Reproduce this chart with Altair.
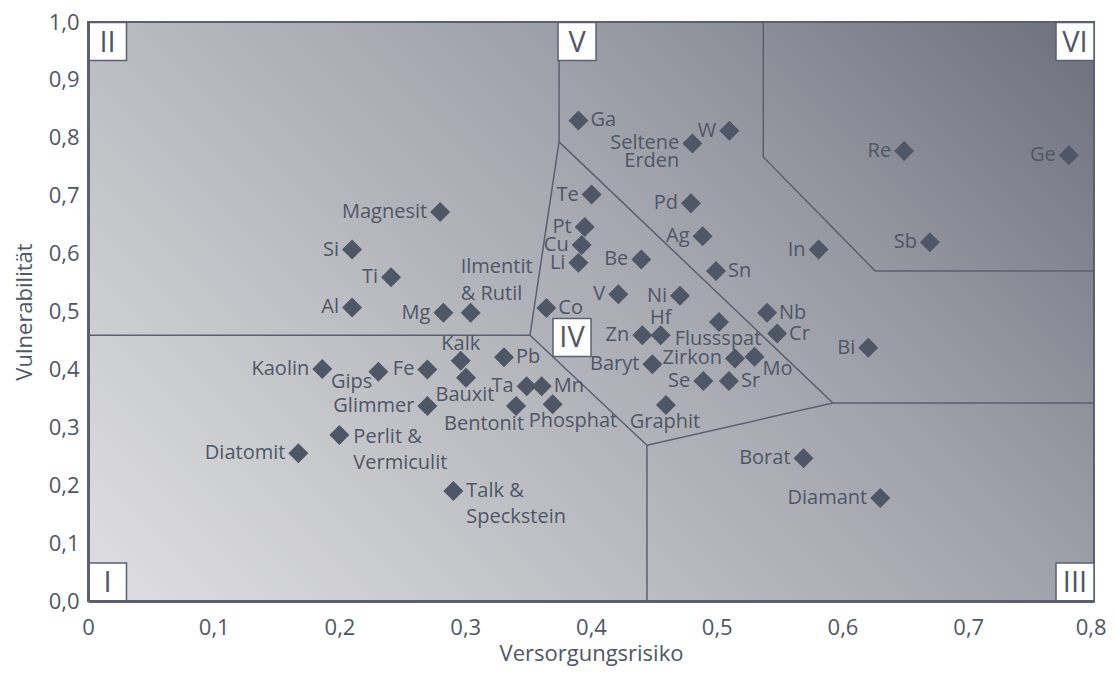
import altair as alt
import pandas as pd

# ---------------- data ----------------
names = ["Magnesit", "Si", "Ti", "Al", "Mg", "Ilmentit\n& Rutil", "Co", "Ga",
         "Seltene\nErden", "W", "Te", "Pd", "Pt", "Cu", "Li", "Be", "Ag", "Sn",
         "In", "V", "Ni", "Nb", "Cr", "Hf", "Zn", "Flussspat", "Bi", "Baryt",
         "Zirkon", "Mo", "Se", "Sr", "Graphit", "Kaolin", "Gips", "Fe", "Kalk",
         "Bauxit", "Pb", "Ta", "Mn", "Glimmer", "Bentonit", "Phosphat",
         "Perlit &\nVermiculit", "Diatomit", "Talk &\nSpeckstein", "Borat",
         "Diamant", "Re", "Ge", "Sb"]
risk = [0.280, 0.210, 0.241, 0.210, 0.2826, 0.3043, 0.3645, 0.390,
        0.4806, 0.510, 0.4005, 0.4795, 0.395, 0.3926, 0.390, 0.440, 0.4887, 0.4994,
        0.581, 0.4217, 0.4708, 0.540, 0.548, 0.4554, 0.4408, 0.5018, 0.6205, 0.4488,
        0.5145, 0.530, 0.4893, 0.5097, 0.4596, 0.1863, 0.2309, 0.2699, 0.2964,
        0.3006, 0.3308, 0.3488, 0.3608, 0.2699, 0.3404, 0.3695,
        0.1999, 0.1673, 0.2905, 0.569,
        0.630, 0.649, 0.780, 0.6695]
vuln = [0.672, 0.607, 0.559, 0.507, 0.498, 0.498, 0.506, 0.830,
        0.790, 0.812, 0.702, 0.687, 0.646, 0.615, 0.584, 0.590, 0.630, 0.570,
        0.607, 0.530, 0.527, 0.498, 0.462, 0.459, 0.459, 0.482, 0.4375, 0.409,
        0.419, 0.422, 0.380, 0.380, 0.3385, 0.4007, 0.396, 0.400, 0.415,
        0.3857, 0.421, 0.371, 0.371, 0.3368, 0.3368, 0.340,
        0.2867, 0.255, 0.190, 0.2465,
        0.178, 0.777, 0.770, 0.6195]
place = ["l", "l", "l", "l", "l", "ilm", "r", "r",
         "se", "l", "l", "l", "l", "l", "l", "l", "l", "r",
         "l", "l", "l", "r", "r", "t", "l", "b", "l", "l",
         "l", "br", "l", "r", "b", "l", "bl", "l", "t",
         "b", "r", "l", "r", "l", "bw", "be",
         "pv", "l", "ts", "l",
         "l", "l", "l", "l"]

x_ticks = [0, 0.1, 0.2, 0.3, 0.4, 0.5, 0.6, 0.7, 0.8]
y_ticks = [0, 0.1, 0.2, 0.3, 0.4, 0.5, 0.6, 0.7, 0.8, 0.9, 1.0]

region_names = ["I", "II", "III", "IV", "V", "VI"]
region_x = [0.0155, 0.0155, 0.7849, 0.3849, 0.3889, 0.7849]
region_y = [0.0328, 0.9663, 0.0328, 0.4551, 0.9663, 0.9663]

boundary_id = [1, 1,
               2, 2, 2, 2, 2,
               3, 3, 3,
               4, 4,
               5, 5, 5, 5]
boundary_x = [0.0, 0.3515,
              0.3746, 0.3746, 0.3515, 0.4445, 0.4445,
              0.3746, 0.5924, 0.8,
              0.4445, 0.5924,
              0.537, 0.537, 0.626, 0.8]
boundary_y = [0.459, 0.459,
              1.0, 0.793, 0.459, 0.269, 0.0,
              0.793, 0.342, 0.342,
              0.269, 0.342,
              1.0, 0.767, 0.570, 0.570]

# ---------------- style ----------------
FONT = "Open Sans"
INK = "#4f5666"
LINE = "#5a6070"

placements = {
    "l":   dict(align="right", dx=-13, dy=0, lineHeight=20),
    "r":   dict(align="left", dx=12, dy=0, lineHeight=20),
    "t":   dict(align="center", dx=0, dy=-17, lineHeight=20),
    "b":   dict(align="center", dx=-1, dy=17, lineHeight=20),
    "bl":  dict(align="right", dx=-6, dy=10, lineHeight=20),
    "br":  dict(align="left", dx=8, dy=12, lineHeight=20),
    "bw":  dict(align="right", dx=8, dy=18, lineHeight=20),
    "be":  dict(align="left", dx=-24, dy=17, lineHeight=20),
    "ilm": dict(align="left", dx=-10, dy=-46, lineHeight=27),
    "se":  dict(align="right", dx=-13, dy=-1, lineHeight=18),
    "pv":  dict(align="left", dx=14, dy=2, lineHeight=26),
    "ts":  dict(align="left", dx=13, dy=0, lineHeight=26),
}

points = pd.DataFrame({"name": names, "x": risk, "y": vuln, "place": place})
regions = pd.DataFrame({"name": region_names, "x": region_x, "y": region_y})
bounds = pd.DataFrame({"seg": boundary_id, "x": boundary_x, "y": boundary_y,
                       "ord": list(range(len(boundary_x)))})
frame = pd.DataFrame({"x": [x_ticks[0]], "x2": [x_ticks[-1]],
                      "y": [y_ticks[0]], "y2": [y_ticks[-1]]})

xscale = alt.Scale(domain=[x_ticks[0], x_ticks[-1]], nice=False, zero=False)
yscale = alt.Scale(domain=[y_ticks[0], y_ticks[-1]], nice=False, zero=False)

last_x = "datum.value >= %s" % (x_ticks[-1] - 0.01)
x_axis = alt.Axis(values=x_ticks,
                  labelExpr="datum.value == 0 ? '0' : replace(format(datum.value, '.1f'), '.', ',')",
                  labelAlign={"condition": {"test": last_x, "value": "right"}, "value": "center"},
                  labelOffset={"condition": {"test": last_x, "value": 12}, "value": 0},
                  title="Versorgungsrisiko", grid=False, ticks=False, tickSize=0,
                  labelFlush=False, labelPadding=16, titlePadding=5, zindex=1)
y_axis = alt.Axis(values=y_ticks,
                  labelExpr="replace(format(datum.value, '.1f'), '.', ',')",
                  title="Vulnerabilität", grid=False, ticks=False, tickSize=0,
                  labelFlush=False, labelPadding=9, titlePadding=12, zindex=1)

X = alt.X("x:Q", scale=xscale, axis=x_axis, title="Versorgungsrisiko")
Y = alt.Y("y:Q", scale=yscale, axis=y_axis, title="Vulnerabilität")

gradient = alt.LinearGradient(
    gradient="linear",
    stops=[alt.GradientStop(color="#dfdfe3", offset=0),
           alt.GradientStop(color="#bbbcc1", offset=0.365),
           alt.GradientStop(color="#adaeb6", offset=0.5),
           alt.GradientStop(color="#9fa1aa", offset=0.635),
           alt.GradientStop(color="#6d707c", offset=1)],
    x1=0, y1=1, x2=1.1835, y2=0.319)

background = alt.Chart(frame).mark_rect(fill=gradient, strokeWidth=0).encode(
    x=X, x2="x2:Q", y=Y, y2="y2:Q",
)

lines = alt.Chart(bounds).mark_line(color=LINE, strokeWidth=1.5).encode(
    x=X, y=Y, detail="seg:N", order="ord:Q",
)

diamonds = alt.Chart(points).mark_point(
    shape="diamond", filled=True, size=400, color=INK, opacity=1).encode(
    x=X, y=Y,
)

label_layers = []
for key, spec in placements.items():
    layer = alt.Chart(points).transform_filter(
        alt.datum.place == key
    ).mark_text(font=FONT, fontSize=20, color=INK, baseline="middle",
                lineBreak="\n", **spec).encode(
        x=X, y=Y, text="name:N",
    )
    label_layers.append(layer)

boxes = alt.Chart(regions).mark_point(
    shape="square", size=1444, filled=True, fill="white", stroke=LINE,
    strokeWidth=1.5, opacity=1).encode(
    x=X, y=Y,
)
box_text = alt.Chart(regions).mark_text(
    font=FONT, fontSize=29, color=INK, baseline="middle", align="center", dy=1).encode(
    x=X, y=Y, text="name:N",
)

border = alt.Chart(frame).mark_rect(fillOpacity=0, stroke=LINE, strokeWidth=2).encode(
    x=X, x2="x2:Q", y=Y, y2="y2:Q",
)

chart = alt.layer(background, lines, diamonds, *label_layers, border, boxes, box_text).properties(
    width=1006, height=579,
    autosize=alt.AutoSizeParams(type="none"),
    padding={"left": 80, "top": 14, "right": 12, "bottom": 66},
).configure_view(stroke=None).configure_axis(
    labelFont=FONT, labelFontSize=22, labelColor=INK,
    titleFont=FONT, titleFontSize=22, titleFontWeight="normal", titleColor=INK,
    domainColor=LINE, domainWidth=3,
)

chart.save("out.html", embed_options={"renderer": "svg", "actions": False})
